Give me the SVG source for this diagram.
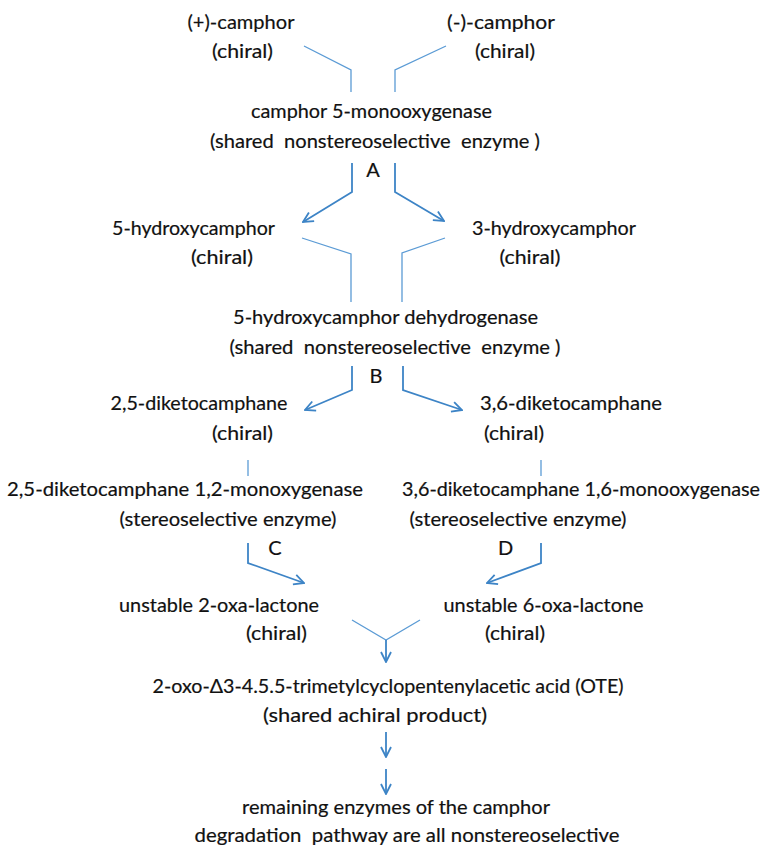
<svg xmlns="http://www.w3.org/2000/svg" width="764" height="847" viewBox="0 0 764 847">
<defs>
<style>
text{font-family:Lato,"Open Sans","Liberation Sans",sans-serif;font-size:20px;fill:#111;stroke:#111;stroke-width:0.2;text-anchor:middle;white-space:pre}
.ln{fill:none;stroke:#5b9bd5;stroke-width:1.3}
.ar{fill:none;stroke:#3d84c6;stroke-width:1.8;marker-end:url(#ah)}
</style>
<marker id="ah" viewBox="0 0 12 12" refX="11" refY="6" markerWidth="12" markerHeight="12" markerUnits="userSpaceOnUse" orient="auto">
<path d="M1,1 L11,6 L1,11" fill="none" stroke="#3d84c6" stroke-width="1.8"/>
</marker>
</defs>
<rect width="764" height="847" fill="#fff"/>
<g id="connectors">
<polyline class="ln" points="304,46 351,70 351,92"/>
<polyline class="ln" points="446,46 395,70 395,92"/>
<polyline class="ar" points="352,163 352,192 303,222"/>
<polyline class="ar" points="395,163 395,192 444,221"/>
<polyline class="ln" points="302,238 351,254 351,302"/>
<polyline class="ln" points="445,238 402,253 402,302"/>
<polyline class="ar" points="352,366 352,390 305,410"/>
<polyline class="ar" points="403,366 403,390 462,410"/>
<line class="ln" x1="248" y1="460" x2="248" y2="476"/>
<line class="ln" x1="541" y1="460" x2="541" y2="476"/>
<polyline class="ar" points="248,543 248,563 304,583"/>
<polyline class="ar" points="541,543 541,563 487,583"/>
<polyline class="ln" points="352,620 386,640 420,620"/>
<line class="ar" x1="386" y1="640" x2="386" y2="662"/>
<line class="ar" x1="386" y1="732" x2="386" y2="757"/>
<line class="ar" x1="386" y1="769" x2="386" y2="794"/>
</g>
<g id="plus-camphor"><text x="241" y="29" textLength="107" lengthAdjust="spacingAndGlyphs">(+)-camphor</text><text x="242.5" y="58" textLength="61" lengthAdjust="spacingAndGlyphs">(chiral)</text></g>
<g id="minus-camphor"><text x="501" y="29" textLength="108" lengthAdjust="spacingAndGlyphs">(-)-camphor</text><text x="505" y="58" textLength="60" lengthAdjust="spacingAndGlyphs">(chiral)</text></g>
<g id="enzyme-A"><text x="371.5" y="118" textLength="241" lengthAdjust="spacingAndGlyphs">camphor 5-monooxygenase</text><text x="375" y="148" textLength="330" lengthAdjust="spacingAndGlyphs">(shared  nonstereoselective  enzyme )</text><text x="373" y="177">A</text></g>
<g id="hydroxy5"><text x="193.5" y="235" textLength="163" lengthAdjust="spacingAndGlyphs">5-hydroxycamphor</text><text x="222" y="264" textLength="62" lengthAdjust="spacingAndGlyphs">(chiral)</text></g>
<g id="hydroxy3"><text x="554" y="235" textLength="164" lengthAdjust="spacingAndGlyphs">3-hydroxycamphor</text><text x="530" y="264" textLength="61" lengthAdjust="spacingAndGlyphs">(chiral)</text></g>
<g id="enzyme-B"><text x="385.5" y="324" textLength="305" lengthAdjust="spacingAndGlyphs">5-hydroxycamphor dehydrogenase</text><text x="395" y="354" textLength="331" lengthAdjust="spacingAndGlyphs">(shared  nonstereoselective  enzyme )</text><text x="376" y="383">B</text></g>
<g id="diketo25"><text x="199" y="410" textLength="177" lengthAdjust="spacingAndGlyphs">2,5-diketocamphane</text><text x="242.5" y="440" textLength="61" lengthAdjust="spacingAndGlyphs">(chiral)</text></g>
<g id="diketo36"><text x="571" y="410" textLength="182" lengthAdjust="spacingAndGlyphs">3,6-diketocamphane</text><text x="514" y="440" textLength="60" lengthAdjust="spacingAndGlyphs">(chiral)</text></g>
<g id="enzyme-C"><text x="185" y="496" textLength="356" lengthAdjust="spacingAndGlyphs">2,5-diketocamphane 1,2-monoxygenase</text><text x="228" y="526" textLength="217" lengthAdjust="spacingAndGlyphs">(stereoselective enzyme)</text><text x="275" y="555">C</text></g>
<g id="enzyme-D"><text x="581" y="496" textLength="358" lengthAdjust="spacingAndGlyphs">3,6-diketocamphane 1,6-monooxygenase</text><text x="518" y="526" textLength="217" lengthAdjust="spacingAndGlyphs">(stereoselective enzyme)</text><text x="505.5" y="555">D</text></g>
<g id="lactone2"><text x="219" y="612" textLength="200" lengthAdjust="spacingAndGlyphs">unstable 2-oxa-lactone</text><text x="276.5" y="640" textLength="61" lengthAdjust="spacingAndGlyphs">(chiral)</text></g>
<g id="lactone6"><text x="543.5" y="612" textLength="200" lengthAdjust="spacingAndGlyphs">unstable 6-oxa-lactone</text><text x="515" y="640" textLength="60" lengthAdjust="spacingAndGlyphs">(chiral)</text></g>
<g id="OTE"><text x="388" y="693" textLength="471" lengthAdjust="spacingAndGlyphs">2-oxo-Δ3-4.5.5-trimetylcyclopentenylacetic acid (OTE)</text><text x="375" y="722" textLength="224" lengthAdjust="spacingAndGlyphs">(shared achiral product)</text></g>
<g id="remaining"><text x="396" y="814" textLength="308" lengthAdjust="spacingAndGlyphs">remaining enzymes of the camphor</text><text x="407" y="842" textLength="425" lengthAdjust="spacingAndGlyphs">degradation  pathway are all nonstereoselective</text></g>
</svg>
